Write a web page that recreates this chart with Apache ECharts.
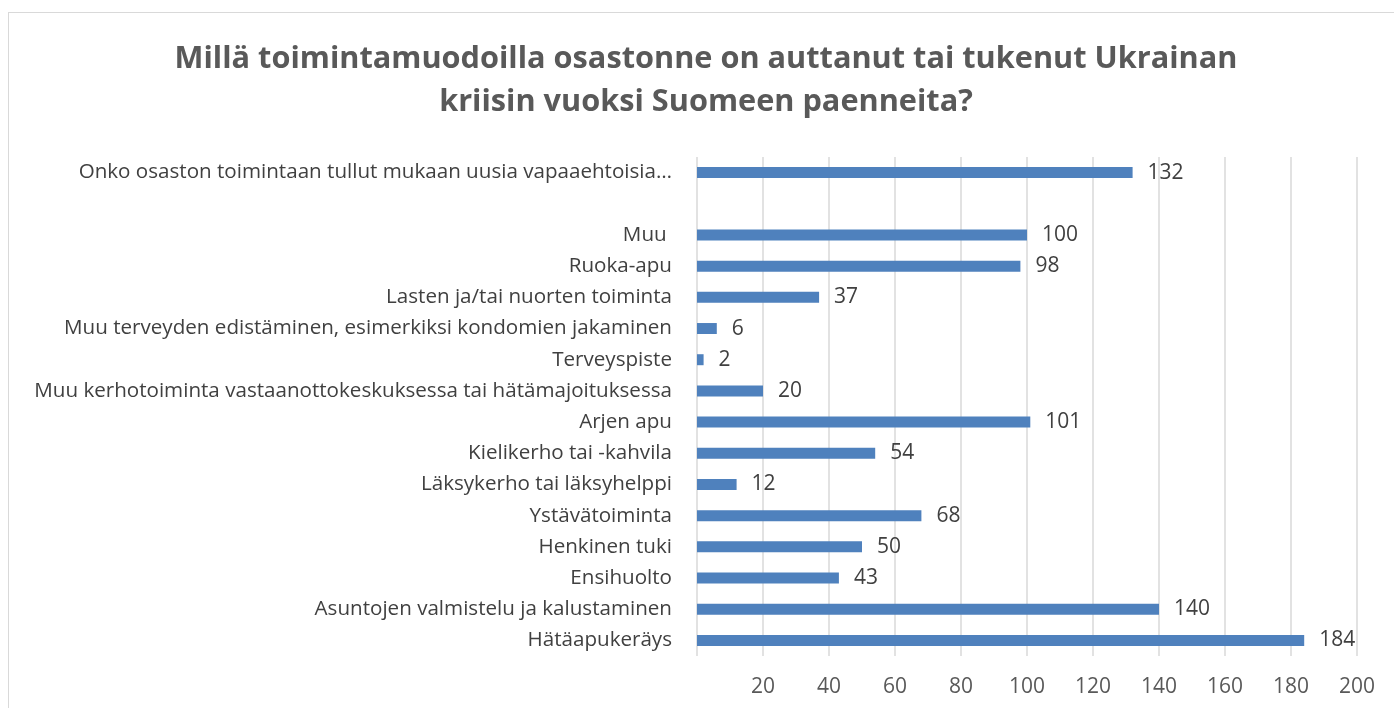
<!DOCTYPE html>
<html>
<head>
<meta charset="utf-8">
<script src="https://cdn.jsdelivr.net/npm/echarts@6/dist/echarts.min.js"></script>
<style>
  html, body { margin: 0; padding: 0; background: #fff; overflow: hidden; }
  #frame {
    position: absolute; left: 8px; top: 12px; width: 1500px; height: 800px;
    border: 1px solid #d9d9d9; box-sizing: border-box;
  }
  #chart { position: absolute; left: 0; top: 0; width: 1394px; height: 708px; }
</style>
</head>
<body>
<div id="frame"></div>
<div id="chart"></div>
<script>
const titleText = 'Millä toimintamuodoilla osastonne on auttanut tai tukenut Ukrainan\nkriisin vuoksi Suomeen paenneita?'

// top to bottom, one blank row as in the original
const categories = [
  'Onko osaston toimintaan tullut mukaan uusia vapaaehtoisia…',
  '',
  'Muu ',
  'Ruoka-apu',
  'Lasten ja/tai nuorten toiminta',
  'Muu terveyden edistäminen, esimerkiksi kondomien jakaminen',
  'Terveyspiste',
  'Muu kerhotoiminta vastaanottokeskuksessa tai hätämajoituksessa',
  'Arjen apu',
  'Kielikerho tai -kahvila',
  'Läksykerho tai läksyhelppi',
  'Ystävätoiminta',
  'Henkinen tuki',
  'Ensihuolto',
  'Asuntojen valmistelu ja kalustaminen',
  'Hätäapukeräys'
]
const values = [132, null, 100, 98, 37, 6, 2, 20, 101, 54, 12, 68, 50, 43, 140, 184]

const xTicks = [0, 20, 40, 60, 80, 100, 120, 140, 160, 180, 200]

const font = 'Open Sans'
const chart = echarts.init(document.getElementById('chart'))
chart.setOption({
  animation: false,
  title: {
    text: titleText,
    left: 701,
    top: 33,
    textAlign: 'center',
    textStyle: {
      fontFamily: font,
      fontSize: 30.7,
      fontWeight: 'bold',
      color: '#595959',
      lineHeight: 43
    }
  },
  grid: {
    left: 697,
    right: 37,
    top: 157,
    bottom: 52,
    containLabel: false,
    outerBoundsMode: 'none'
  },
  xAxis: {
    type: 'value',
    min: xTicks[0],
    max: xTicks[xTicks.length - 1],
    interval: 20,
    axisLine: { show: false },
    axisTick: { show: false },
    axisLabel: {
      fontFamily: font,
      fontSize: 21,
      color: '#595959',
      margin: 21,
      formatter: v => (v === 0 ? '' : v)
    },
    splitLine: { show: true, lineStyle: { color: '#d9d9d9', width: 1.5 } }
  },
  yAxis: {
    type: 'category',
    inverse: true,
    data: categories,
    axisLine: { show: false },
    axisTick: { show: false },
    axisLabel: {
      fontFamily: font,
      fontSize: 20.6,
      color: '#404040',
      margin: 25
    }
  },
  series: [{
    type: 'bar',
    data: values,
    barWidth: 11,
    itemStyle: { color: '#4f81bd' },
    label: {
      show: true,
      position: 'right',
      distance: 15,
      fontFamily: font,
      fontSize: 21,
      color: '#404040'
    }
  }]
})
</script>
</body>
</html>
